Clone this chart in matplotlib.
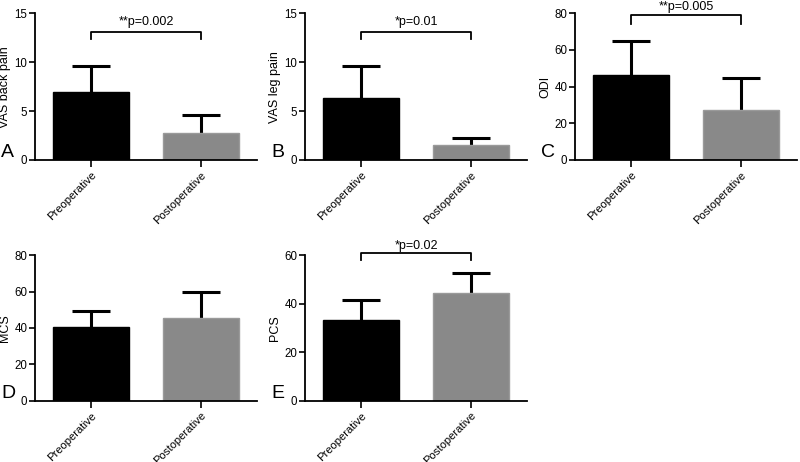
import matplotlib
matplotlib.use("Agg")
import matplotlib.pyplot as plt

plt.rcParams['font.family'] = ['Liberation Sans', 'DejaVu Sans']

groups = ["Preoperative", "Postoperative"]
panel_letters = ["A", "B", "C", "D", "E"]
ylabels = ["VAS back pain", "VAS leg pain", "ODI", "MCS", "PCS"]
means = [[7.0, 2.8], [6.3, 1.5], [46.4, 27.5], [40.4, 45.5], [33.3, 44.3]]
sds = [[2.65, 1.85], [3.3, 0.7], [18.7, 17.2], [9.0, 14.1], [8.1, 8.6]]
ymax = [15, 15, 80, 80, 60]
yticks = [[0, 5, 10, 15], [0, 5, 10, 15], [0, 20, 40, 60, 80], [0, 20, 40, 60, 80], [0, 20, 40, 60]]
pvals = ["**p=0.002", "*p=0.01", "**p=0.005", None, "*p=0.02"]
bracket_y = [13.1, 13.1, 79.3, None, 60.8]
bracket_drop = [0.7, 0.7, 5.3, None, 2.9]

colors = ["#000000", "#898989"]
edges = ["#000000", "#9a9a9a"]
text_offsets = [3.0, 3.0, 1.2, 0, 1.2]

fig = plt.figure(figsize=(8, 4.62), dpi=100)
positions = [
    (35/800, 1-160/462, 222/800, (160-13.3)/462),
    (305/800, 1-160/462, 222/800, (160-13.3)/462),
    (575/800, 1-160/462, 222/800, (160-13.3)/462),
    (35/800, 1-400.7/462, 222/800, (400.7-255.3)/462),
    (305/800, 1-400.7/462, 222/800, (400.7-255.3)/462),
]

bar_w = 0.69
cap_half = 0.17

for i in range(5):
    ax = fig.add_axes(positions[i])
    x = [0, 1]
    ax.bar(x, means[i], width=bar_w, color=colors, edgecolor=edges, linewidth=1.0, zorder=2)
    for j in range(2):
        top = means[i][j] + sds[i][j]
        ax.plot([x[j], x[j]], [means[i][j], top], color='black', lw=2.2,
                solid_capstyle='butt', zorder=1)
        ax.plot([x[j] - cap_half, x[j] + cap_half], [top, top], color='black', lw=2.2,
                solid_capstyle='butt', zorder=1)
    ax.set_xlim(-0.51, 1.51)
    ax.set_ylim(0, ymax[i])
    ax.set_yticks(yticks[i])
    ax.set_xticks(x)
    ax.set_xticklabels(groups, rotation=45, ha='right', rotation_mode='anchor', fontsize=8.1)
    ax.tick_params(axis='y', labelsize=8.3, length=4, width=1.2, pad=1.5)
    ax.tick_params(axis='x', length=5, width=1.2, pad=2)
    ax.set_ylabel(ylabels[i], fontsize=9, labelpad=2.5)
    for s in ['top', 'right']:
        ax.spines[s].set_visible(False)
    for s in ['left', 'bottom']:
        ax.spines[s].set_linewidth(1.3)
    ax.text(-0.152, -0.01, panel_letters[i], transform=ax.transAxes, fontsize=14,
            ha='left', va='bottom')
    if pvals[i] is not None:
        by = bracket_y[i]
        bd = bracket_drop[i]
        ax.plot([0, 0, 1, 1], [by - bd, by, by, by - bd], color='black', lw=1.3,
                clip_on=False, zorder=3)
        ax.annotate(pvals[i], xy=(0.5, by), xytext=(0, text_offsets[i]), textcoords='offset points',
                    ha='center', va='bottom', fontsize=9, annotation_clip=False)

fig.savefig("out.png", dpi=100)
